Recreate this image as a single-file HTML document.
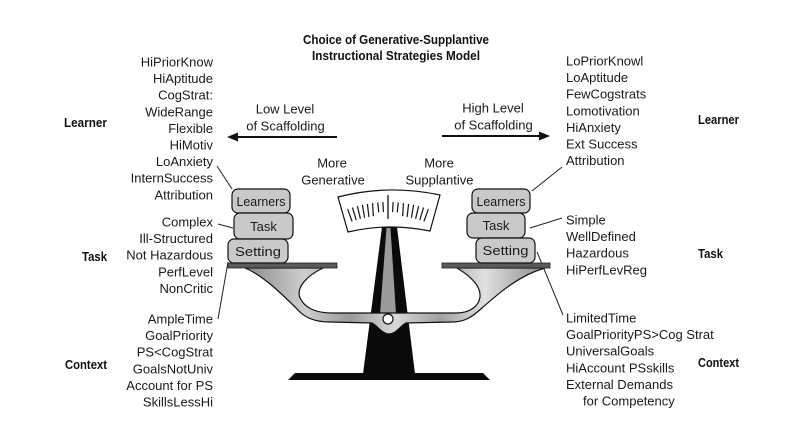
<!DOCTYPE html>
<html><head><meta charset="utf-8"><style>
html,body{margin:0;padding:0;background:#fff;}
svg{display:block;}
text{font-family:"Liberation Sans",sans-serif;fill:#1a1a1a;}
.b{font-weight:bold;font-size:13px;fill:#111;}
.r{font-size:13px;}
</style></head><body>
<svg width="785" height="427" viewBox="0 0 785 427" xmlns="http://www.w3.org/2000/svg">
<defs>
<linearGradient id="bg" x1="0" y1="0" x2="1" y2="0">
<stop offset="0" stop-color="#8a8a8a"/><stop offset="0.2" stop-color="#cfcfcf"/>
<stop offset="0.35" stop-color="#9a9a9a"/><stop offset="0.5" stop-color="#d8d8d8"/>
<stop offset="0.65" stop-color="#a0a0a0"/><stop offset="0.8" stop-color="#e0e0e0"/>
<stop offset="1" stop-color="#8a8a8a"/>
</linearGradient>
</defs>
<!-- Title -->
<text class="b" x="396" y="44" text-anchor="middle" textLength="186" lengthAdjust="spacingAndGlyphs">Choice of Generative-Supplantive</text>
<text class="b" x="396" y="60" text-anchor="middle" textLength="168" lengthAdjust="spacingAndGlyphs">Instructional Strategies Model</text>

<!-- Side labels -->
<text class="b" x="64" y="127" textLength="43" lengthAdjust="spacingAndGlyphs">Learner</text>
<text class="b" x="82" y="261" textLength="25" lengthAdjust="spacingAndGlyphs">Task</text>
<text class="b" x="65" y="369" textLength="42" lengthAdjust="spacingAndGlyphs">Context</text>
<text class="b" x="698" y="124" textLength="41" lengthAdjust="spacingAndGlyphs">Learner</text>
<text class="b" x="698" y="258" textLength="25" lengthAdjust="spacingAndGlyphs">Task</text>
<text class="b" x="698" y="367" textLength="41" lengthAdjust="spacingAndGlyphs">Context</text>

<!-- Left lists -->
<g class="r" text-anchor="end">
<text class="r" x="213" y="66.5">HiPriorKnow</text>
<text class="r" x="213" y="83.1">HiAptitude</text>
<text class="r" x="213" y="99.7">CogStrat:</text>
<text class="r" x="213" y="116.3">WideRange</text>
<text class="r" x="213" y="132.9">Flexible</text>
<text class="r" x="213" y="149.5">HiMotiv</text>
<text class="r" x="213" y="166.1">LoAnxiety</text>
<text class="r" x="213" y="182.7">InternSuccess</text>
<text class="r" x="213" y="199.3">Attribution</text>
<text class="r" x="213" y="226.5">Complex</text>
<text class="r" x="213" y="243.1">Ill-Structured</text>
<text class="r" x="213" y="259.7">Not Hazardous</text>
<text class="r" x="213" y="276.3">PerfLevel</text>
<text class="r" x="213" y="292.9">NonCritic</text>
<text class="r" x="213" y="323.5">AmpleTime</text>
<text class="r" x="213" y="340.1">GoalPriority</text>
<text class="r" x="213" y="356.7">PS&lt;CogStrat</text>
<text class="r" x="213" y="373.3">GoalsNotUniv</text>
<text class="r" x="213" y="389.9">Account for PS</text>
<text class="r" x="213" y="406.5">SkillsLessHi</text>
</g>

<!-- Right lists -->
<g>
<text class="r" x="566" y="65.5">LoPriorKnowl</text>
<text class="r" x="566" y="82.1">LoAptitude</text>
<text class="r" x="566" y="98.7">FewCogstrats</text>
<text class="r" x="566" y="115.3">Lomotivation</text>
<text class="r" x="566" y="131.9">HiAnxiety</text>
<text class="r" x="566" y="148.5">Ext Success</text>
<text class="r" x="566" y="165.1">Attribution</text>
<text class="r" x="566" y="224.5">Simple</text>
<text class="r" x="566" y="241.1">WellDefined</text>
<text class="r" x="566" y="257.7">Hazardous</text>
<text class="r" x="566" y="274.3">HiPerfLevReg</text>
<text class="r" x="566" y="322.5">LimitedTime</text>
<text class="r" x="566" y="339.1">GoalPriorityPS&gt;Cog Strat</text>
<text class="r" x="566" y="355.7">UniversalGoals</text>
<text class="r" x="566" y="372.3">HiAccount PSskills</text>
<text class="r" x="566" y="388.9">External Demands</text>
<text class="r" x="583" y="405.5">for Competency</text>
</g>

<!-- Arrows -->
<text class="r" x="285" y="113.5" text-anchor="middle">Low Level</text>
<text class="r" x="285.5" y="130.5" text-anchor="middle">of Scaffolding</text>
<line x1="337" y1="137" x2="236" y2="137" stroke="#111" stroke-width="2"/>
<polygon points="227,137 238,132.5 238,141.5" fill="#111"/>
<text class="r" x="493" y="112.5" text-anchor="middle">High Level</text>
<text class="r" x="493.5" y="129.5" text-anchor="middle">of Scaffolding</text>
<line x1="442" y1="136" x2="541" y2="136" stroke="#111" stroke-width="2"/>
<polygon points="550,136 539,131.5 539,140.5" fill="#111"/>

<text class="r" x="332" y="167.5" text-anchor="middle">More</text>
<text class="r" x="333" y="184.5" text-anchor="middle">Generative</text>
<text class="r" x="439" y="167.5" text-anchor="middle">More</text>
<text class="r" x="439.5" y="184.5" text-anchor="middle">Supplantive</text>

<!-- connector lines -->
<g stroke="#222" stroke-width="1" fill="none">
<line x1="217" y1="166" x2="232" y2="189"/>
<line x1="218" y1="224" x2="233" y2="228"/>
<line x1="228" y1="262" x2="218" y2="319"/>
<line x1="532" y1="191" x2="562" y2="167"/>
<line x1="530" y1="228" x2="562" y2="218"/>
<line x1="537" y1="252" x2="563" y2="315"/>
</g>

<!-- base and pillar -->
<polygon points="295,373 483,373 490,380 288,380" fill="#0a0a0a"/>
<polygon points="382,227 397,227 415,374 363,374" fill="#0a0a0a"/>
<polygon points="386.5,228 390.5,228 396,314 380,314" fill="#9a9a9a"/>

<!-- beam -->
<path d="M245,268 C262,275 280,292 298,310 C305,318 315,322 330,322 L372,323 C378,326 382,334 389,334 C396,334 400,326 406,323 L452,322 C465,322 472,317 482,308 C500,292 520,275 545,268 L457,268 C472,277 481,287 480,297 C479,306 470,313 456,313 L333,313 C315,313 305,308 300,298 C296,288 306,276 323,268 Z" fill="url(#bg)" stroke="#111" stroke-width="1.2"/>
<circle cx="388" cy="319" r="5" fill="#fff" stroke="#111" stroke-width="1.2"/>

<!-- plates -->
<rect x="228" y="263" width="109" height="5" fill="#5a5a5a" stroke="#222" stroke-width="0.8"/>
<rect x="442" y="263" width="108" height="5" fill="#5a5a5a" stroke="#222" stroke-width="0.8"/>

<!-- meter -->
<path d="M338,197 Q388,184 440,195 L430,231 Q388,222.5 348,232 Z" fill="#fff" stroke="#111" stroke-width="1.2"/>
<g stroke="#111" stroke-width="1.3">
<line x1="388" y1="195" x2="388" y2="219"/>
</g>
<g id="ticks" stroke="#111" stroke-width="1.2"></g>

<!-- boxes -->
<g stroke="#111" stroke-width="1.2" fill="#c9c9c9">
<rect x="232" y="189" width="58" height="24" rx="6"/>
<rect x="234" y="213" width="59" height="26" rx="6"/>
<rect x="228" y="239" width="60" height="24" rx="6"/>
<rect x="472" y="189" width="58" height="24" rx="6"/>
<rect x="467" y="213" width="58" height="25" rx="6"/>
<rect x="476" y="238" width="59" height="25" rx="6"/>
</g>
<g text-anchor="middle">
<text class="r" x="261" y="206" font-size="13.5" textLength="49" lengthAdjust="spacingAndGlyphs">Learners</text>
<text class="r" x="263.5" y="231">Task</text>
<text class="r" x="258" y="256" textLength="46" lengthAdjust="spacingAndGlyphs">Setting</text>
<text class="r" x="501" y="206" textLength="49" lengthAdjust="spacingAndGlyphs">Learners</text>
<text class="r" x="496" y="230">Task</text>
<text class="r" x="505.5" y="255" textLength="46" lengthAdjust="spacingAndGlyphs">Setting</text>
</g>

<!-- tick marks (static) -->
<g stroke="#111" stroke-width="1.2">
<line x1="347.6" y1="209.1" x2="352.1" y2="221.4"/>
<line x1="352.4" y1="207.5" x2="356.2" y2="220.0"/>
<line x1="357.4" y1="206.1" x2="360.4" y2="218.8"/>
<line x1="362.4" y1="204.9" x2="364.6" y2="217.8"/>
<line x1="367.4" y1="203.9" x2="368.9" y2="216.9"/>
<line x1="372.6" y1="203.1" x2="373.3" y2="216.1"/>
<line x1="377.7" y1="202.5" x2="378.8" y2="212.5"/>
<line x1="382.9" y1="202.1" x2="383.4" y2="212.1"/>
<line x1="393.1" y1="202.1" x2="392.6" y2="212.1"/>
<line x1="398.3" y1="202.5" x2="397.2" y2="212.5"/>
<line x1="403.4" y1="203.1" x2="402.7" y2="216.1"/>
<line x1="408.6" y1="203.9" x2="407.1" y2="216.9"/>
<line x1="413.6" y1="204.9" x2="411.4" y2="217.8"/>
<line x1="418.6" y1="206.1" x2="415.6" y2="218.8"/>
<line x1="423.6" y1="207.5" x2="419.8" y2="220.0"/>
<line x1="428.4" y1="209.1" x2="423.9" y2="221.4"/>
</g>
</svg>
</body></html>
